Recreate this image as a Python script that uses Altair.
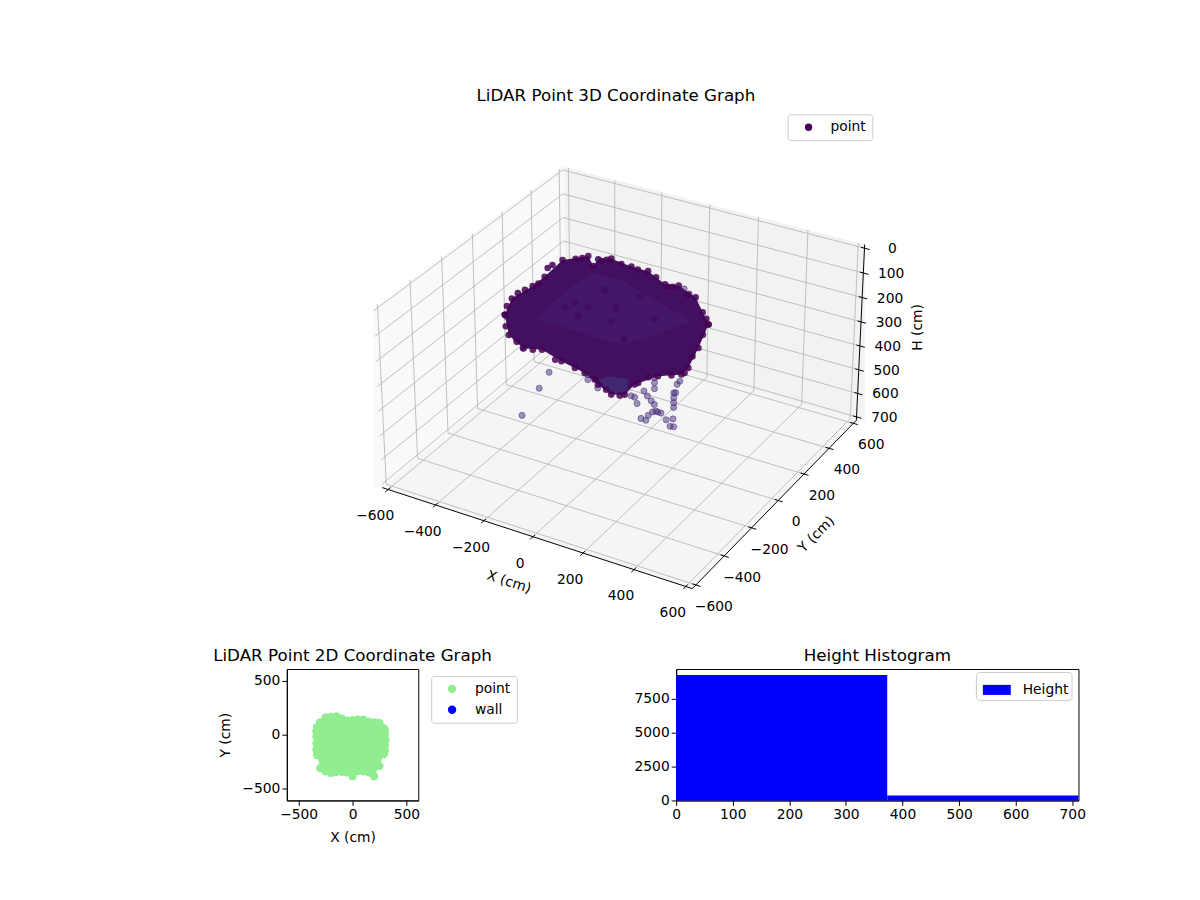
import numpy as np
import pandas as pd
import altair as alt

FONT = "DejaVu Sans"
TICK_SIZE = 13.9
TITLE_SIZE = 16.8

# ---- 3D cloud, values (cm)
# silhouette of the cloud, top edge and bottom edge
top_x = [-395, -395, -403, -403, -335, -232, -217, -189, -132, -41, 31, 107, 171, 237, 259]
top_y = [-156, -108, 45, 127, 141, 148, 157, 145, 140, 124, 116, 102, 85, 88, 145]
top_h = [178, 135, 160, 160, 80, 40, 80, 40, 20, 20, 15, 40, 20, 50, 180]
low_x = [-395, -399, -384, -283, -181, -86, -22, 44, 85, 89, 140, 222, 237, 250, 259]
low_y = [-156, -127, -58, -92, -127, -127, -144, -165, -142, -79, -3, 19, 41, 90, 145]
low_h = [178, 275, 360, 320, 320, 340, 360, 370, 370, 360, 350, 330, 310, 250, 180]
# more points along the edge of the cloud
edge3d_x = [-354, -337, -369, -366, -318, -301, -228, -218, -156, -84, 1, 72, 87, 162, 267, 300,
            -347, -363, 219, 178, 210, 179, 114, 103, 90, 29, -41, -143, -233, -339, -419, -360]
edge3d_y = [-85, -22, 94, 122, 204, 222, 237, 254, 252, 245, 227, 187, 196, 172, 85, 51,
            -216, -118, 180, 180, 64, 25, -26, -78, -185, -174, -134, -99, -84, -64, -44, -206]
edge3d_h = [100, 100, 100, 100, 100, 100, 100, 100, 100, 100, 100, 100, 100, 100, 100, 100,
            100, 100, 250, 350, 350, 350, 350, 350, 350, 350, 350, 350, 350, 350, 350, 190]
# inside of the bowl
in_top_x = [-325, -279, -190, -70, 106, 231]
in_top_y = [-69, 23, 98, 102, 81, 76]
in_top_h = [220, 160, 70, 70, 110, 140]
in_low_x = [-325, -172, -50, 35, 107, 231]
in_low_y = [-69, -94, -72, -64, -13, 76]
in_low_h = [220, 200, 220, 220, 200, 140]
# deepest part of the bowl
deep_top_x = [-30, -11, 60]
deep_top_y = [-130, -90, -70]
deep_low_x = [-30, 30, 76, 100, 60]
deep_low_y = [-130, -170, -180, -150, -70]
deep_h = 350
# single points that stand out of the cloud
stray_x = [-311, -268, -251, -372, -387, -395, -79, -79, -28, 110, 110, 110, 110, 100, 73, 84,
           111, 96, 81, 71, 64, 47, 102, 163, 163, 163, 163, 102, 120, 104, 117, 199, 185, 176,
           99, 88, 103, 190, 214]
stray_y = [-189, -139, -98, -71, -99, -146, -117, -116, -135, 26, 26, 26, 26, 21, 16, 21,
           73, 61, 64, 51, 46, 41, 67, 72, 72, 72, 72, 128, 146, 154, 157, 50, 56, 62,
           -96, -101, -86, 90, 83]
stray_h = [550, 450, 400, 350, 300, 190, 370, 350, 380, 380, 400, 425, 490, 475, 440, 460,
           550, 540, 550, 560, 580, 575, 545, 450, 470, 490, 510, 610, 610, 650, 650, 380, 400, 440,
           400, 395, 430, 30, 40]
# points that show darker inside the bowl
inner_x = [-243, -209, -151, -178, -119, -57, -54, 21, 93, 3]
inner_y = [3, 15, 8, -13, 70, 10, 39, 77, 50, -4]
inner_h = [180, 160, 160, 190, 110, 190, 150, 100, 160, 240]

xy_ticks = [-600, -400, -200, 0, 200, 400, 600]
h_ticks = [0, 100, 200, 300, 400, 500, 600, 700]

# ---- 2D cloud: footprint of the points (cm)
foot_x = [-330, -300, -250, -200, -150, -100, -50, 0, 50, 100, 150, 200, 250, 290, 305]
foot_top = [70, 115, 160, 165, 170, 150, 130, 135, 140, 140, 120, 115, 110, 60, -50]
foot_low = [-190, -310, -340, -355, -345, -345, -350, -385, -335, -340, -350, -385, -290, -180, -50]
edge_x = [-335, -335, -335, -335, 300, 300, 300, 300]
edge_y = [-140, -80, -20, 30, -150, -100, 0, 40]

# ---- histogram
bin_start = [0, 373]
bin_end = [373, 711]
bin_count = [9265, 370]

# ---- camera of the 3D box
EDGE_XY = 625
EDGE_TOP = -14.6
EDGE_BOT = 714.6
CX, CY, SX, SY = 622.5, 364.6, 2860, 2880
U = (0.866, 0.5, 0.0)
V = (-0.25, 0.433, 0.866)
W = (0.433, -0.75, 0.5)


def project(x, y, h):
    qx = np.asarray(x, dtype=float) / 600 * 0.5952
    qy = np.asarray(y, dtype=float) / 600 * 0.5952
    qz = (350 - np.asarray(h, dtype=float)) / 350 * 0.344
    d = 10 - (W[0] * qx + W[1] * qy + W[2] * qz)
    px = CX + SX * (U[0] * qx + U[1] * qy) / d
    py = CY - SY * (V[0] * qx + V[1] * qy + V[2] * qz) / d
    return px, py


SCALE_X = alt.Scale(domain=[8, 1192], nice=False, zero=False)
SCALE_Y = alt.Scale(domain=[628, 8], nice=False, zero=False)
PX = alt.X("px:Q", scale=SCALE_X, axis=None)
PY = alt.Y("py:Q", scale=SCALE_Y, axis=None)


def band(top, low, color):
    # filled shape between two chains of 3D points
    tx, ty = project(*top)
    lx, ly = project(*low)
    xs = np.unique(np.concatenate([tx, lx]))
    df = pd.DataFrame({"px": xs, "py": np.interp(xs, tx, ty), "py2": np.interp(xs, lx, ly)})
    return alt.Chart(df).mark_area(color=color, opacity=1).encode(x=PX, y=PY, y2="py2:Q")


def segments(rows, color, width):
    # rows: pairs of 3D points, one straight line each
    recs = []
    for i, (a, b) in enumerate(rows):
        for k, p in enumerate((a, b)):
            px, py = project(*p)
            recs.append({"px": float(px), "py": float(py), "id": i, "k": k})
    return alt.Chart(pd.DataFrame(recs)).mark_line(color=color, strokeWidth=width).encode(
        x=PX, y=PY, detail="id:N", order="k:Q"
    )


def labels(xs, ys, hs, texts, ox, oy):
    px, py = project(xs, ys, hs)
    df = pd.DataFrame({"px": px + ox, "py": py + oy, "t": texts})
    return alt.Chart(df).mark_text(
        font=FONT, fontSize=TICK_SIZE, color="black", align="center", baseline="middle"
    ).encode(x=PX, y=PY, text="t:N")


def note(text, x, y, size, angle=0):
    df = pd.DataFrame({"px": [x], "py": [y], "t": [text]})
    return alt.Chart(df).mark_text(
        font=FONT, fontSize=size, color="black", align="center", baseline="middle", angle=angle
    ).encode(x=PX, y=PY, text="t:N")


def fmt(v):
    return str(v).replace("-", "\u2212")


E, T, B = EDGE_XY, EDGE_TOP, EDGE_BOT
panes = [
    band(([-E, E, E], [E, E, E], [T, T, T]), ([-E, E, E], [E, E, E], [B, B, B]), "#f2f2f2"),
    band(([-E, -E], [-E, E], [T, T]), ([-E, -E], [-E, E], [B, B]), "#f9f9f9"),
    band(([-E, -E, E], [-E, E, E], [B, B, B]), ([-E, E, E], [-E, -E, E], [B, B, B]), "#f5f5f5"),
]

grid_rows = []
for t in xy_ticks:
    grid_rows.append(((t, -E, B), (t, E, B)))
    grid_rows.append(((t, E, B), (t, E, T)))
    grid_rows.append(((-E, t, B), (E, t, B)))
    grid_rows.append(((-E, t, B), (-E, t, T)))
for t in h_ticks:
    grid_rows.append(((-E, -E, t), (-E, E, t)))
    grid_rows.append(((-E, E, t), (E, E, t)))
grid = segments(grid_rows, "#b8b8b8", 0.9)

axis_rows = [((-E, -E, B), (E, -E, B)), ((E, -E, B), (E, E, B)), ((E, E, T), (E, E, B))]
tick_rows = []
for t in xy_ticks:
    tick_rows.append(((t, -E + 14, B), (t, -E - 18, B)))
    tick_rows.append(((E - 14, t, B), (E + 18, t, B)))
for t in h_ticks:
    tick_rows.append(((E - 14, E, t), (E + 20, E, t)))
axes3d = segments(axis_rows + tick_rows, "black", 1)

xy_text = [fmt(t) for t in xy_ticks]
text3d = [
    labels(xy_ticks, [-E] * 7, [B] * 7, xy_text, -13, 27),
    labels([E] * 7, xy_ticks, [B] * 7, xy_text, 18, 22),
    labels([E] * 8, [E] * 8, h_ticks, [fmt(t) for t in h_ticks], 28, 1),
    note("X (cm)", 507, 582, TICK_SIZE, 18),
    note("Y (cm)", 816, 534, TICK_SIZE, 315),
    note("H (cm)", 918, 326, TICK_SIZE, 270),
    note("LiDAR Point 3D Coordinate Graph", 614.5, 94, TITLE_SIZE),
]

body = band((top_x, top_y, top_h), (low_x, low_y, low_h), "#43105f")
inside = band((in_top_x, in_top_y, in_top_h), (in_low_x, in_low_y, in_low_h), "#451768")
deep = band(
    (deep_top_x, deep_top_y, [deep_h] * 3), (deep_low_x, deep_low_y, [deep_h] * 5), "#412670"
)

rim_px, rim_py = project(top_x + low_x + edge3d_x, top_y + low_y + edge3d_y, top_h + low_h + edge3d_h)
rim_df = pd.DataFrame({"px": rim_px, "py": rim_py, "series": "point"})
rim = alt.Chart(rim_df).mark_circle(size=44, opacity=0.85).encode(
    x=PX,
    y=PY,
    color=alt.Color(
        "series:N",
        scale=alt.Scale(domain=["point"], range=["#440154"]),
        legend=alt.Legend(
            title=None,
            orient="none",
            legendX=779,
            legendY=104,
            strokeColor="#cccccc",
            fillColor="white",
            cornerRadius=3,
            padding=6,
            symbolSize=54,
            symbolOpacity=1,
            symbolOffset=8,
            labelOffset=15,
            labelFontSize=TICK_SIZE,
            labelFont=FONT,
            labelColor="black",
        ),
    ),
)

stray_px, stray_py = project(stray_x, stray_y, stray_h)
stray = alt.Chart(pd.DataFrame({"px": stray_px, "py": stray_py})).mark_circle(
    size=38, fill="#472d7b", fillOpacity=0.5, stroke="#472d7b", strokeOpacity=0.5, strokeWidth=1, opacity=1
).encode(x=PX, y=PY)

inner_px, inner_py = project(inner_x, inner_y, inner_h)
inner = alt.Chart(pd.DataFrame({"px": inner_px, "py": inner_py})).mark_circle(
    size=50, color="#3f0a5c", opacity=0.7
).encode(x=PX, y=PY)

top_panel = alt.layer(
    *panes, grid, axes3d, *text3d, stray, body, inside, deep, inner, rim
).properties(width=1184, height=620, view=alt.ViewBackground(stroke="transparent"))

# ---- bottom left, 2D
AXIS = dict(
    grid=False,
    domainColor="black",
    tickColor="black",
    tickSize=5,
    labelFlush=False,
    labelFont=FONT,
    labelFontSize=TICK_SIZE,
    labelColor="black",
    titleFont=FONT,
    titleFontSize=TICK_SIZE,
    titleColor="black",
    titleFontWeight="normal",
)
xs2d = alt.Scale(domain=[-610, 610], nice=False, zero=False)
ys2d = alt.Scale(domain=[-610, 610], nice=False, zero=False)
foot_df = pd.DataFrame({"x": foot_x, "top": foot_top, "low": foot_low})
foot_area = alt.Chart(foot_df).mark_area(color="#90ee90", opacity=1).encode(
    x=alt.X(
        "x:Q",
        scale=xs2d,
        title="X (cm)",
        axis=alt.Axis(values=[-500, 0, 500], titlePadding=9, **AXIS),
    ),
    y=alt.Y(
        "top:Q",
        scale=ys2d,
        title="Y (cm)",
        axis=alt.Axis(values=[-500, 0, 500], titlePadding=9, **AXIS),
    ),
    y2="low:Q",
)
dots_df = pd.DataFrame(
    {
        "x": foot_x + foot_x + edge_x,
        "y": foot_top + foot_low + edge_y,
        "series": "point",
    }
)
foot_dots = alt.Chart(dots_df).mark_circle(size=70, opacity=1).encode(
    x=alt.X("x:Q", scale=xs2d),
    y=alt.Y("y:Q", scale=ys2d),
    color=alt.Color(
        "series:N",
        scale=alt.Scale(domain=["point", "wall"], range=["#90ee90", "#0000ff"]),
        legend=alt.Legend(
            title=None,
            orient="none",
            legendX=145,
            legendY=7,
            strokeColor="#cccccc",
            fillColor="white",
            cornerRadius=3,
            padding=6,
            rowPadding=6,
            symbolSize=70,
            symbolOpacity=1,
            symbolOffset=8,
            labelOffset=16,
            labelFontSize=TICK_SIZE,
            labelFont=FONT,
            labelColor="black",
        ),
    ),
)
panel_2d = alt.layer(foot_area, foot_dots).properties(
    width=132,
    height=132,
    view=alt.ViewBackground(stroke="black"),
    title=alt.TitleParams(
        "LiDAR Point 2D Coordinate Graph",
        font=FONT,
        fontSize=TITLE_SIZE,
        fontWeight="normal",
        color="black",
        anchor="middle",
        offset=4,
    ),
)

# ---- bottom right, histogram
hist_df = pd.DataFrame(
    {"start": bin_start, "end": bin_end, "count": bin_count, "base": [0, 0], "series": "Height"}
)
panel_hist = alt.Chart(hist_df).mark_rect().encode(
    x=alt.X(
        "start:Q",
        scale=alt.Scale(domain=[0, 711], nice=False),
        title=None,
        axis=alt.Axis(values=[0, 100, 200, 300, 400, 500, 600, 700], **AXIS),
    ),
    x2="end:Q",
    y=alt.Y(
        "count:Q",
        scale=alt.Scale(domain=[0, 9706], nice=False),
        title=None,
        axis=alt.Axis(values=[0, 2500, 5000, 7500], format="d", **AXIS),
    ),
    y2="base:Q",
    color=alt.Color(
        "series:N",
        scale=alt.Scale(domain=["Height"], range=["#0000ff"]),
        legend=alt.Legend(
            title=None,
            orient="none",
            legendX=301,
            legendY=3,
            strokeColor="#cccccc",
            fillColor="white",
            cornerRadius=3,
            padding=3,
            symbolType="M-1,-0.36H1V0.36H-1Z",
            symbolSize=784,
            symbolOpacity=1,
            symbolOffset=3,
            labelOffset=11,
            labelFontSize=TICK_SIZE,
            labelFont=FONT,
            labelColor="black",
        ),
    ),
).properties(
    width=404,
    height=132,
    view=alt.ViewBackground(stroke="black"),
    title=alt.TitleParams(
        "Height Histogram",
        font=FONT,
        fontSize=TITLE_SIZE,
        fontWeight="normal",
        color="black",
        anchor="middle",
        offset=4,
    ),
)


def spacer(w):
    return alt.Chart(pd.DataFrame({"a": [0]})).mark_point(opacity=0).encode(
        x=alt.value(0), y=alt.value(0)
    ).properties(width=w, height=132, view=alt.ViewBackground(stroke="transparent"))


bottom = alt.hconcat(
    spacer(276), panel_2d, spacer(259), panel_hist, spacing=0, bounds="flush"
).resolve_scale(color="independent")
chart = (
    alt.vconcat(top_panel, bottom, spacing=41, bounds="flush")
    .resolve_scale(color="independent")
    .properties(padding=0, background="white")
)

chart.save("out.html", embed_options={"renderer": "svg", "actions": False})
